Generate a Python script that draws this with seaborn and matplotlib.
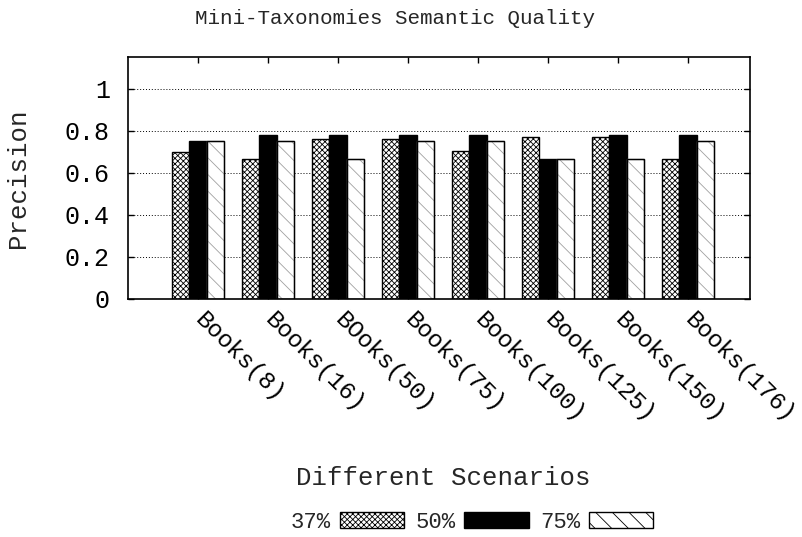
import numpy as np
import pandas as pd
import matplotlib
matplotlib.use("Agg")
import matplotlib.pyplot as plt
import seaborn as sns

# Data
scenarios = ["Books(8)", "Books(16)", "BOoks(50)", "Books(75)",
             "Books(100)", "Books(125)", "Books(150)", "Books(176)"]
series = ["37%", "50%", "75%"]
p37 = [0.697, 0.667, 0.762, 0.762, 0.705, 0.770, 0.770, 0.667]
p50 = [0.752, 0.781, 0.781, 0.781, 0.781, 0.667, 0.781, 0.781]
p75 = [0.750, 0.750, 0.667, 0.750, 0.750, 0.667, 0.667, 0.750]

df = pd.DataFrame({
    "Scenario": scenarios * 3,
    "Series": [s for s in series for _ in scenarios],
    "Precision": p37 + p50 + p75,
})

sns.set_theme(style="white")
plt.rcParams["font.family"] = ["Liberation Mono", "DejaVu Sans Mono"]
plt.rcParams["hatch.linewidth"] = 0.6

fig = plt.figure(figsize=(8.03, 5.37), dpi=100)
ax = fig.add_axes([128 / 803, 1 - 299 / 537, 622 / 803, 242 / 537])

sns.barplot(data=df, x="Scenario", y="Precision", hue="Series",
            palette=["white", "black", "white"], width=0.75, gap=0,
            edgecolor="black", linewidth=1.0, ax=ax, legend=False)

hatches = ["xxxxxx", None, "\\\\"]
hatch_col = ["black", "black", "#a0a0a0"]
for cont, h, hc in zip(ax.containers, hatches, hatch_col):
    for bar in cont:
        if h:
            bar.set_hatch(h)
        if hc != "black":
            # light hatch: grey edge for the hatch, black outline on top
            bar.set_edgecolor(hc)
            ax.add_patch(plt.Rectangle(bar.get_xy(), bar.get_width(), bar.get_height(),
                                       fill=False, edgecolor="black", linewidth=1.0,
                                       zorder=bar.get_zorder() + 0.1))

ax.set_xlim(-1.0, 7.886)
ax.set_ylim(0, 1.15)
ax.set_yticks([0, 0.2, 0.4, 0.6, 0.8, 1.0])
ax.set_yticklabels(["0", "0.2", "0.4", "0.6", "0.8", "1"], fontsize=18)
ax.set_xticks(range(len(scenarios)))
ax.set_xticklabels(scenarios, fontsize=17.5, rotation=-45, ha="left",
                   va="center", rotation_mode="anchor")
ax.tick_params(axis="both", direction="in", length=4, width=1,
               top=True, right=True, bottom=True, left=True, colors="black")
ax.tick_params(axis="x", pad=12)
ax.tick_params(axis="y", pad=13)
ax.yaxis.grid(True, linestyle=(0, (1, 2)), color="black", linewidth=0.7)
ax.set_axisbelow(True)
for sp in ax.spines.values():
    sp.set_color("black")
    sp.set_linewidth(1.2)
ax.set_xlabel("")
ax.set_ylabel("")

fig.text(395 / 803, 1 - 18 / 537, "Mini-Taxonomies Semantic Quality",
         ha="center", va="center", fontsize=15)
fig.text(18 / 803, 1 - 178 / 537, "Precision", rotation=90,
         ha="center", va="center", fontsize=18.5)
fig.text(443 / 803, 1 - 478 / 537, "Different Scenarios",
         ha="center", va="center", fontsize=18.5)

handles = [plt.Rectangle((0, 0), 1, 1, facecolor=c, edgecolor="black",
                         hatch=h, linewidth=1.0)
           for c, h in zip(["white", "black", "white"], hatches)]
fig.legend(handles, series, loc="center", bbox_to_anchor=(472 / 803, 1 - 522 / 537),
           ncol=3, frameon=False, markerfirst=False, fontsize=16,
           handlelength=2.9, handleheight=0.7, columnspacing=0.5,
           handletextpad=0.4)

fig.savefig("out.png", dpi=100)
